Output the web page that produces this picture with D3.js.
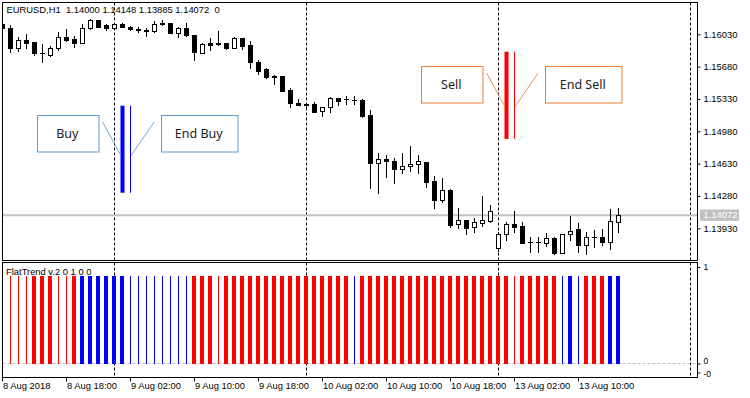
<!DOCTYPE html>
<html>
<head>
  <meta charset="utf-8">
  <title>EURUSD H1 with FlatTrend</title>
  <script src="https://d3js.org/d3.v7.min.js"></script>
  <style>
    body { margin: 0; background: #fff; }
    svg text { font-family: "Liberation Sans", Arial, sans-serif; font-size: 9.4px; fill: #000; white-space: pre; }
    .note text { font-family: "Noto Sans", sans-serif; font-size: 12.5px; fill: #222; }
    .flataxis text { font-size: 8.6px; }
  </style>
</head>
<body>
<div id="output"></div>

<script type="text/javascript">

  // EURUSD H1, one entry per bar, from 8 Aug 2018 10:00
  var opens = [1.16142,1.16095,1.15878,1.15968,1.15947,1.15826,1.15806,1.15878,1.15997,1.15979,
    1.15939,1.16095,1.16181,1.16127,1.16095,1.16141,1.16112,1.16087,1.16076,1.16065,
    1.16155,1.16149,1.16047,1.16101,1.16022,1.15831,1.15939,1.15939,1.15939,1.15885,
    1.15986,1.15914,1.15733,1.15651,1.15578,1.15578,1.15427,1.15283,1.15272,1.15272,
    1.15200,1.15240,1.15337,1.15326,1.15318,1.15318,1.15156,1.14634,1.14680,1.14658,
    1.14569,1.14601,1.14626,1.14648,1.14445,1.14233,1.14345,1.13973,1.14020,1.13941,
    1.13990,1.14012,1.13713,1.13865,1.13976,1.13955,1.13785,1.13785,1.13774,1.13821,
    1.13666,1.13865,1.13919,1.13746,1.13833,1.13832,1.13785,1.14000];
  var highs = [1.16163,1.16131,1.16004,1.16033,1.15947,1.15922,1.15906,1.16051,1.16087,1.16015,
    1.16141,1.16192,1.16185,1.16141,1.16149,1.16149,1.16120,1.16112,1.16095,1.16177,
    1.16185,1.16149,1.16112,1.16149,1.16022,1.15932,1.15986,1.16065,1.15939,1.16004,
    1.15993,1.15960,1.15752,1.15662,1.15589,1.15581,1.15445,1.15329,1.15283,1.15294,
    1.15240,1.15348,1.15337,1.15362,1.15362,1.15329,1.15211,1.14748,1.14723,1.14694,
    1.14748,1.14821,1.14723,1.14648,1.14496,1.14471,1.14352,1.14146,1.14020,1.14038,
    1.14280,1.14182,1.13890,1.13998,1.14117,1.13998,1.13839,1.13839,1.13876,1.13839,
    1.13865,1.14063,1.13990,1.13890,1.13911,1.13919,1.14142,1.14148];
  var lows = [1.16076,1.15835,1.15852,1.15878,1.15806,1.15727,1.15798,1.15860,1.15960,1.15896,
    1.15932,1.16084,1.16112,1.16076,1.16087,1.16106,1.16080,1.16051,1.16011,1.16058,
    1.16131,1.16047,1.16004,1.16011,1.15752,1.15824,1.15860,1.15914,1.15871,1.15878,
    1.15871,1.15662,1.15600,1.15553,1.15488,1.15419,1.15246,1.15261,1.15246,1.15192,
    1.15145,1.15192,1.15264,1.15275,1.15275,1.15138,1.14369,1.14315,1.14488,1.14424,
    1.14525,1.14550,1.14525,1.14380,1.14146,1.14218,1.13947,1.13930,1.13868,1.13893,
    1.13955,1.14001,1.13684,1.13803,1.13893,1.13774,1.13677,1.13677,1.13738,1.13648,
    1.13666,1.13803,1.13677,1.13648,1.13730,1.13746,1.13709,1.13885];
  var closes = [1.16098,1.15878,1.15968,1.15939,1.15824,1.15824,1.15878,1.15997,1.15968,1.15939,
    1.16095,1.16181,1.16112,1.16095,1.16141,1.16112,1.16087,1.16076,1.16065,1.16141,
    1.16138,1.16047,1.16101,1.16022,1.15835,1.15922,1.15917,1.15928,1.15878,1.15993,
    1.15906,1.15727,1.15636,1.15564,1.15564,1.15419,1.15283,1.15261,1.15261,1.15192,
    1.15240,1.15337,1.15311,1.15325,1.15317,1.15149,1.14634,1.14680,1.14655,1.14569,
    1.14601,1.14626,1.14658,1.14434,1.14233,1.14345,1.13966,1.14020,1.13936,1.13995,
    1.14020,1.14117,1.13868,1.13973,1.13947,1.13774,1.13784,1.13784,1.13821,1.13666,
    1.13865,1.13904,1.13746,1.13832,1.13832,1.13785,1.14009,1.14072];

  // FlatTrend v.2 histogram: value and state per bar (R/r = down strong/weak, B/b = up strong/weak)
  var flatValues = [1,1,1,1,1,1,1,1,1,1, 1,1,1,1,1,1,1,1,1,1, 1,1,1,1,1,1,1,1,1,1, 1,1,1,1,1,1,1,1,1,1,
    1,1,1,1,1,1,1,1,1,1, 1,1,1,1,1,1,1,1,1,1, 1,1,1,1,1,1,1,1,1,1, 1,1,1,1,1,1,1,1];
  var flatStates = ["b","r","r","r","R","R","R","r","r","R",
    "B","B","B","B","B","B","b","b","b","b",
    "b","b","b","b","R","R","R","r","R","R",
    "R","R","R","R","R","R","R","R","R","R",
    "R","R","R","R","b","R","R","R","R","R",
    "R","R","R","R","R","R","R","R","R","R",
    "R","R","R","R","r","R","R","R","R","R",
    "b","B","b","R","R","R","B","B"];

  var timeTickBars = [0, 8, 16, 24, 32, 40, 48, 56, 64, 72];
  var timeLabels = ["8 Aug 2018", "8 Aug 18:00", "9 Aug 02:00", "9 Aug 10:00", "9 Aug 18:00",
    "10 Aug 02:00", "10 Aug 10:00", "10 Aug 18:00", "13 Aug 02:00", "13 Aug 10:00"];
  var daySeparatorBars = [14, 38, 62, 86];
  var priceTicks = [1.16030, 1.15680, 1.15330, 1.14980, 1.14630, 1.14280, 1.13930];
  var flatTicks = [1.103, 0, -0.103];

  // signal marks pasted on the price chart
  var signals = [
    {side: "buy", bar: 15, endBar: 16, top: 1.15257, bottom: 1.14315, label: "Buy", endLabel: "End Buy"},
    {side: "sell", bar: 63, endBar: 64, top: 1.15842, bottom: 1.14897, label: "Sell", endLabel: "End Sell"}
  ];

  var w = 750, h = 398;
  var left = 2.5, right = 697.5;
  var mainTop = 2.5, mainBottom = 260.5;
  var subTop = 262.5, subBottom = 377.5;

  var stateColor = {R: "#ff0000", r: "#ff0000", B: "#0000ff", b: "#0000ff"};
  var noteStyle = {
    buy: {bar: "#0000ff", frame: "#5b9bd5", boxDy: 9.3},
    sell: {bar: "#ff0000", frame: "#ed7d31", boxDy: 14.3}
  };

  var x = d3.scaleLinear().domain([0, 1]).range([left, left + 8]);
  var y = d3.scaleLinear().domain([1.13930, 1.16030]).range([228.3, 34.3]);
  var yF = d3.scaleLinear().domain([0, 1]).range([363.5, 276]);

  var svg = d3.select("#output").append("svg")
    .attr("width", w).attr("height", h);

  svg.append("defs").append("clipPath").attr("id", "mainClip")
    .append("rect").attr("x", left).attr("y", mainTop)
    .attr("width", right - left).attr("height", mainBottom - mainTop);
  svg.select("defs").append("clipPath").attr("id", "subClip")
    .append("rect").attr("x", left).attr("y", subTop)
    .attr("width", right - left).attr("height", subBottom - subTop);

  var bars = d3.range(opens.length).map(function(i) {
    return {i: i, o: opens[i], hi: highs[i], lo: lows[i], c: closes[i], v: flatValues[i], s: flatStates[i]};
  });

  // ---- main panel
  var main = svg.append("g").attr("clip-path", "url(#mainClip)");

  main.selectAll(".sep").data(daySeparatorBars).enter().append("line")
    .attr("x1", function(d) { return x(d); }).attr("x2", function(d) { return x(d); })
    .attr("y1", mainTop).attr("y2", mainBottom)
    .attr("stroke", "#000").attr("stroke-dasharray", "3,2");

  var last = bars[bars.length - 1];
  main.append("line")
    .attr("x1", left).attr("x2", right)
    .attr("y1", y(last.c)).attr("y2", y(last.c))
    .attr("stroke", "#c0c0c0").attr("stroke-width", 2);

  var candle = main.selectAll(".candle").data(bars).enter().append("g").attr("class", "candle");

  candle.append("line")
    .attr("x1", function(d) { return x(d.i); }).attr("x2", function(d) { return x(d.i); })
    .attr("y1", function(d) { return Math.round(y(d.hi)); })
    .attr("y2", function(d) { return Math.round(y(d.lo)) + 1; })
    .attr("stroke", "#000");

  candle.each(function(d) {
    var g = d3.select(this);
    var yo = Math.round(y(d.o)), yc = Math.round(y(d.c));
    var top = Math.min(yo, yc), bot = Math.max(yo, yc);
    if (bot - top < 1) {
      g.append("line")
        .attr("x1", x(d.i) - 2.5).attr("x2", x(d.i) + 2.5)
        .attr("y1", top + 0.5).attr("y2", top + 0.5)
        .attr("stroke", "#000");
    } else if (d.c > d.o) {
      g.append("rect")
        .attr("x", x(d.i) - 2).attr("width", 4)
        .attr("y", top + 0.5).attr("height", bot - top)
        .attr("fill", "#fff").attr("stroke", "#000");
    } else {
      g.append("rect")
        .attr("x", x(d.i) - 2.5).attr("width", 5)
        .attr("y", top).attr("height", bot - top + 1)
        .attr("fill", "#000");
    }
  });

  // signal notes
  var note = svg.append("g").attr("class", "note");
  signals.forEach(function(s) {
    var st = noteStyle[s.side];
    var bx = x(s.bar), ex = x(s.endBar);
    var boxTop = y(s.top) + st.boxDy, boxH = 36.5;

    note.append("rect")
      .attr("x", bx - 2).attr("width", 4)
      .attr("y", y(s.top)).attr("height", y(s.bottom) - y(s.top))
      .attr("fill", st.bar);
    note.append("line")
      .attr("x1", ex).attr("x2", ex)
      .attr("y1", y(s.top)).attr("y2", y(s.bottom))
      .attr("stroke", st.bar);

    var b1 = {x: bx - 86, w: 61.5};
    var b2 = {x: ex + 30, w: 76.5};
    [b1, b2].forEach(function(b, k) {
      note.append("rect")
        .attr("x", Math.round(b.x) + 0.5).attr("y", Math.round(boxTop) + 0.5)
        .attr("width", b.w).attr("height", boxH)
        .attr("fill", "#fff").attr("stroke", st.frame);
      note.append("text")
        .attr("x", b.x + b.w / 2).attr("y", boxTop + boxH / 2 + 4.5)
        .attr("text-anchor", "middle")
        .text(k === 0 ? s.label : s.endLabel);
    });

    note.append("line")
      .attr("x1", b1.x + b1.w + 4.6).attr("y1", boxTop + 7)
      .attr("x2", bx - 1.5).attr("y2", boxTop + 40.7)
      .attr("stroke", st.frame).attr("opacity", 0.85);
    note.append("line")
      .attr("x1", b2.x - 6.3).attr("y1", boxTop + 7)
      .attr("x2", ex + 0.5).attr("y2", boxTop + 40.7)
      .attr("stroke", st.frame).attr("opacity", 0.85);
  });

  svg.append("rect")
    .attr("x", left).attr("y", mainTop)
    .attr("width", right - left).attr("height", mainBottom - mainTop)
    .attr("fill", "none").attr("stroke", "#000");

  svg.append("text")
    .attr("x", 6.5).attr("y", 12.5)
    .text("EURUSD,H1  " + [last.o, last.hi, last.lo, last.c].map(function(v) { return v.toFixed(5); }).join(" ") + "  0");

  var yAxis = d3.axisRight(y).tickValues(priceTicks).tickSize(3).tickPadding(3)
    .tickFormat(function(d) { return d.toFixed(5); });
  var ya = svg.append("g").attr("transform", "translate(" + right + ",0)").call(yAxis);
  ya.select(".domain").remove();
  ya.attr("font-size", null).attr("font-family", null);

  svg.append("rect")
    .attr("x", 700).attr("y", y(last.c) - 5.7)
    .attr("width", 39).attr("height", 11.4)
    .attr("fill", "#c0c0c0");
  svg.append("text")
    .attr("x", 703.5).attr("y", y(last.c) + 3.3)
    .style("fill", "#fff")
    .text(last.c.toFixed(5));

  // ---- FlatTrend panel
  var sub = svg.append("g").attr("clip-path", "url(#subClip)");

  sub.append("line")
    .attr("x1", left).attr("x2", right)
    .attr("y1", yF(0)).attr("y2", yF(0))
    .attr("stroke", "#c0c0c0").attr("stroke-dasharray", "3,2");

  sub.selectAll(".sep").data(daySeparatorBars).enter().append("line")
    .attr("x1", function(d) { return x(d); }).attr("x2", function(d) { return x(d); })
    .attr("y1", subTop).attr("y2", subBottom)
    .attr("stroke", "#000").attr("stroke-dasharray", "3,2");

  sub.selectAll(".flat").data(bars).enter().append("rect")
    .attr("class", "flat")
    .attr("x", function(d) { return d.s === d.s.toUpperCase() ? x(d.i) - 2.5 : x(d.i) - 0.5; })
    .attr("width", function(d) { return d.s === d.s.toUpperCase() ? 4 : 1; })
    .attr("y", function(d) { return Math.round(yF(d.v)); })
    .attr("height", function(d) { return Math.round(yF(0)) - Math.round(yF(d.v)); })
    .attr("fill", function(d) { return stateColor[d.s]; });

  svg.append("rect")
    .attr("x", left).attr("y", subTop)
    .attr("width", right - left).attr("height", subBottom - subTop)
    .attr("fill", "none").attr("stroke", "#000");

  svg.append("text")
    .attr("x", 6).attr("y", 275)
    .text("FlatTrend v.2 0 1 0 0");

  var fAxis = d3.axisRight(yF).tickValues(flatTicks).tickSize(3).tickPadding(3)
    .tickFormat(function(d) { return d.toFixed(0); });
  var fa = svg.append("g").attr("class", "flataxis")
    .attr("transform", "translate(" + right + ",0)").call(fAxis);
  fa.select(".domain").remove();
  fa.attr("font-size", null).attr("font-family", null);
  fa.selectAll(".tick text").attr("dy", function(d) { return d === 0 ? "-0.05em" : (d < 0 ? "0.45em" : "0.32em"); });

  // ---- time axis
  var tAxis = svg.append("g");
  tAxis.selectAll("line").data(timeTickBars).enter().append("line")
    .attr("x1", function(d) { return x(d); }).attr("x2", function(d) { return x(d); })
    .attr("y1", subBottom).attr("y2", subBottom + 4)
    .attr("stroke", "#000");
  tAxis.selectAll("text").data(timeTickBars).enter().append("text")
    .attr("x", function(d) { return x(d) + 0.5; })
    .attr("y", 388.5)
    .text(function(d, k) { return timeLabels[k]; });

</script>
</body>
</html>
